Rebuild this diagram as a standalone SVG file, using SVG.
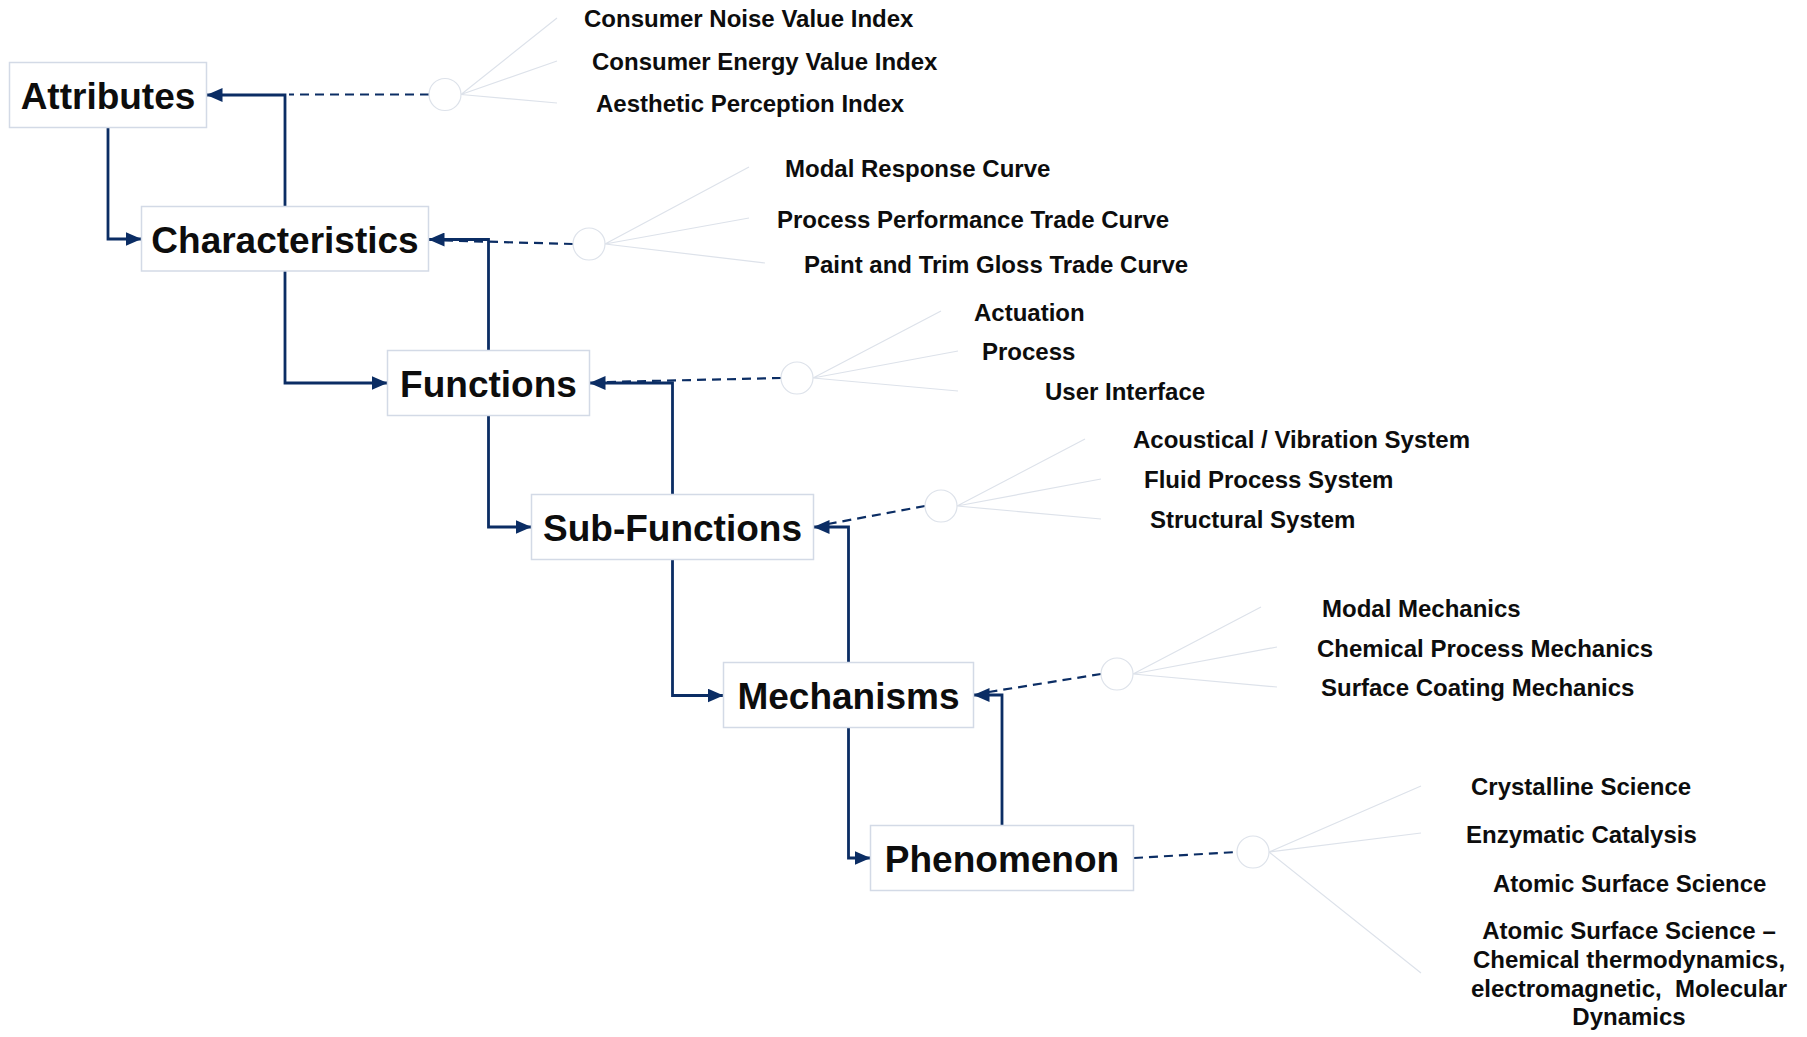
<svg xmlns="http://www.w3.org/2000/svg" width="1807" height="1037" viewBox="0 0 1807 1037">
  <style>
    .box { fill: #ffffff; stroke: #d3dae6; stroke-width: 1.5; }
    .title { font-family: "Liberation Sans", Arial, sans-serif; font-weight: bold; font-size: 37px; fill: #0d0d0d; text-anchor: middle; }
    .item { font-family: "Liberation Sans", Arial, sans-serif; font-weight: bold; font-size: 24px; fill: #0d0d0d; }
    .itemc { text-anchor: middle; }
    .flow { fill: none; stroke: #0b2d64; stroke-width: 2.8; marker-end: url(#arrow); }
    .dash { fill: none; stroke: #0b2d64; stroke-width: 2.2; stroke-dasharray: 9 6; }
    .hub { fill: #ffffff; stroke: #dde2ea; stroke-width: 1.2; }
    .spoke { fill: none; stroke: #dde2ea; stroke-width: 1.2; }
  </style>
  <defs>
    <marker id="arrow" viewBox="0 0 16 14" refX="16" refY="7" markerWidth="16" markerHeight="14" markerUnits="userSpaceOnUse" orient="auto">
      <path d="M0,0 L16,7 L0,14 Z" fill="#0b2d64"/>
    </marker>
  </defs>
  <rect width="1807" height="1037" fill="#ffffff"/>

  <!-- hierarchy connectors: down-steps and return paths -->
  <g id="connectors">
    <path class="flow" d="M108,127.5 V239 H141.5"/>
    <path class="flow" d="M285,206.5 V95 H206.5"/>
    <path class="flow" d="M285,271 V383 H387.5"/>
    <path class="flow" d="M488.5,350.5 V239.5 H428.5"/>
    <path class="flow" d="M488.5,415.5 V527 H531.5"/>
    <path class="flow" d="M672.5,494.5 V383 H589.5"/>
    <path class="flow" d="M672.5,559.5 V695.5 H723.5"/>
    <path class="flow" d="M848.5,662.5 V527 H813.5"/>
    <path class="flow" d="M848.5,727.5 V858 H870.5"/>
    <path class="flow" d="M1002,825.5 V695 H973.5"/>

    <!-- dashed links from the detail hubs -->
    <path class="dash" d="M429,94.5 L289,94.5"/>
    <path class="dash" d="M573,244 L444,240.5"/>
    <path class="dash" d="M781,378 L606,382"/>
    <path class="dash" d="M925,506 L828,524"/>
    <path class="dash" d="M1101,674 L989,692"/>
    <path class="dash" d="M1134,858 L1237,852"/>

    <!-- fan-out spokes -->
    <path class="spoke" d="M461,94.5 L557,18 M461,94.5 L557,61 M461,94.5 L557,103"/>
    <path class="spoke" d="M605,244 L749,167 M605,244 L749,218 M605,244 L765,263"/>
    <path class="spoke" d="M813,378 L941,311 M813,378 L958,351 M813,378 L958,391"/>
    <path class="spoke" d="M957,506 L1085,439 M957,506 L1101,479 M957,506 L1101,519"/>
    <path class="spoke" d="M1133,674 L1261,607 M1133,674 L1277,647 M1133,674 L1277,687"/>
    <path class="spoke" d="M1269,852 L1421,786 M1269,852 L1421,833 M1269,852 L1421,973"/>
  </g>

  <!-- hubs -->
  <g id="hub-attributes"><ellipse class="hub" cx="445" cy="94.5" rx="16" ry="16"/></g>
  <g id="hub-characteristics"><ellipse class="hub" cx="589" cy="244" rx="16" ry="16"/></g>
  <g id="hub-functions"><ellipse class="hub" cx="797" cy="378" rx="16" ry="16"/></g>
  <g id="hub-subfunctions"><ellipse class="hub" cx="941" cy="506" rx="16" ry="16"/></g>
  <g id="hub-mechanisms"><ellipse class="hub" cx="1117" cy="674" rx="16" ry="16"/></g>
  <g id="hub-phenomenon"><ellipse class="hub" cx="1253" cy="852" rx="16" ry="16"/></g>

  <!-- level nodes -->
  <g id="attributes">
    <rect class="box" x="9.5" y="62.5" width="197" height="65"/>
    <text class="title" x="108" y="108.5">Attributes</text>
  </g>
  <g id="characteristics">
    <rect class="box" x="141.5" y="206.5" width="287" height="64.5"/>
    <text class="title" x="285" y="252.5">Characteristics</text>
  </g>
  <g id="functions">
    <rect class="box" x="387.5" y="350.5" width="202" height="65"/>
    <text class="title" x="488.5" y="397">Functions</text>
  </g>
  <g id="sub-functions">
    <rect class="box" x="531.5" y="494.5" width="282" height="65"/>
    <text class="title" x="672.5" y="540.5">Sub-Functions</text>
  </g>
  <g id="mechanisms">
    <rect class="box" x="723.5" y="662.5" width="250" height="65"/>
    <text class="title" x="848.5" y="708.5">Mechanisms</text>
  </g>
  <g id="phenomenon">
    <rect class="box" x="870.5" y="825.5" width="263" height="65"/>
    <text class="title" x="1002" y="871.5">Phenomenon</text>
  </g>

  <!-- detail lists -->
  <g id="attributes-items">
    <text class="item" x="584" y="27">Consumer Noise Value Index</text>
    <text class="item" x="592" y="70">Consumer Energy Value Index</text>
    <text class="item" x="596" y="112">Aesthetic Perception Index</text>
  </g>
  <g id="characteristics-items">
    <text class="item" x="785" y="177">Modal Response Curve</text>
    <text class="item" x="777" y="228">Process Performance Trade Curve</text>
    <text class="item" x="804" y="273">Paint and Trim Gloss Trade Curve</text>
  </g>
  <g id="functions-items">
    <text class="item" x="974" y="321">Actuation</text>
    <text class="item" x="982" y="360">Process</text>
    <text class="item" x="1045" y="400">User Interface</text>
  </g>
  <g id="subfunctions-items">
    <text class="item" x="1133" y="448">Acoustical / Vibration System</text>
    <text class="item" x="1144" y="488">Fluid Process System</text>
    <text class="item" x="1150" y="528">Structural System</text>
  </g>
  <g id="mechanisms-items">
    <text class="item" x="1322" y="617">Modal Mechanics</text>
    <text class="item" x="1317" y="657">Chemical Process Mechanics</text>
    <text class="item" x="1321" y="696">Surface Coating Mechanics</text>
  </g>
  <g id="phenomenon-items">
    <text class="item" x="1471" y="795">Crystalline Science</text>
    <text class="item" x="1466" y="843">Enzymatic Catalysis</text>
    <text class="item" x="1493" y="892">Atomic Surface Science</text>
    <text class="item itemc" x="1629" y="939">Atomic Surface Science –</text>
    <text class="item itemc" x="1629" y="968">Chemical thermodynamics,</text>
    <text class="item itemc" x="1629" y="997" xml:space="preserve">electromagnetic,  Molecular</text>
    <text class="item itemc" x="1629" y="1025">Dynamics</text>
  </g>
</svg>
